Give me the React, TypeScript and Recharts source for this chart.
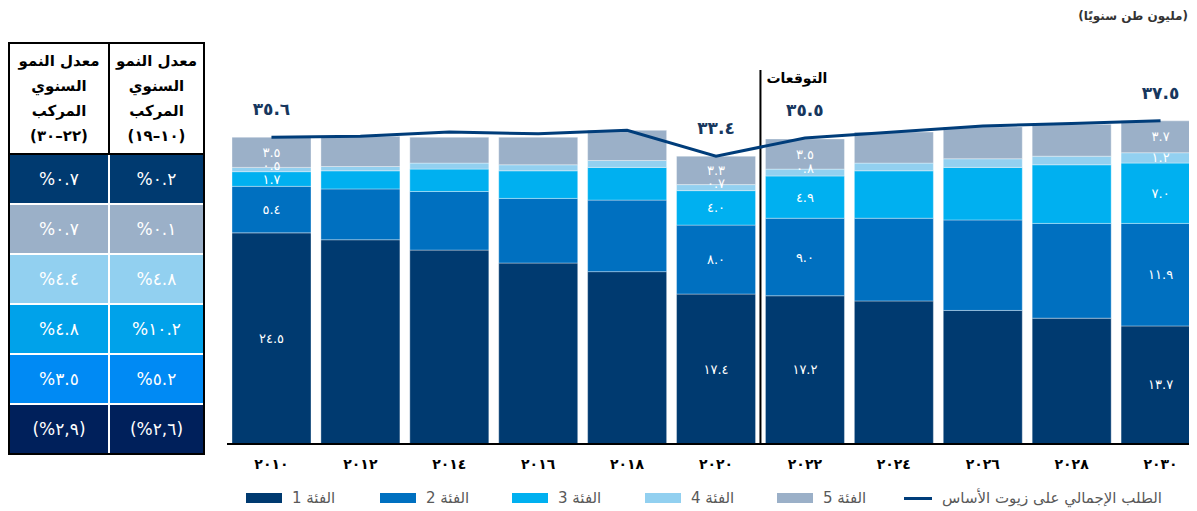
import React from 'react';
import { ComposedChart, Bar, Line, XAxis, YAxis, LabelList, ReferenceLine } from 'recharts';

// values (million tonnes / year)
const years = ['2010', '2012', '2014', '2016', '2018', '2020', '2022', '2024', '2026', '2028', '2030'];
const yearLabels = ['٢٠١٠', '٢٠١٢', '٢٠١٤', '٢٠١٦', '٢٠١٨', '٢٠٢٠', '٢٠٢٢', '٢٠٢٤', '٢٠٢٦', '٢٠٢٨', '٢٠٣٠'];
const cat1 = [24.5, 23.7, 22.5, 21.0, 20.0, 17.4, 17.2, 16.6, 15.5, 14.6, 13.7];
const cat2 = [5.4, 5.9, 6.8, 7.5, 8.3, 8.0, 9.0, 9.6, 10.5, 11.0, 11.9];
const cat3 = [1.7, 2.1, 2.6, 3.2, 3.8, 4.0, 4.9, 5.5, 6.1, 6.8, 7.0];
const cat4 = [0.5, 0.5, 0.7, 0.7, 0.8, 0.7, 0.8, 0.9, 1.0, 1.0, 1.2];
const cat5 = [3.5, 3.5, 3.0, 3.2, 3.5, 3.3, 3.5, 3.6, 3.7, 3.7, 3.7];
const totals = [35.6, 35.7, 36.2, 36.0, 36.4, 33.4, 35.5, 36.2, 36.9, 37.2, 37.5];
const labelledYears = ['2010', '2020', '2022', '2030'];

const seriesNames = ['الفئة 1', 'الفئة 2', 'الفئة 3', 'الفئة 4', 'الفئة 5'];
const lineName = 'الطلب الإجمالي على زيوت الأساس';
const colors = ['#003A70', '#0070C0', '#00B0F0', '#92D0F0', '#9BB0C8'];
const lineColor = '#003D7A';

// CAGR table
const cagrHeader2230 = ['معدل النمو', 'السنوي', 'المركب', '(٢٢–٣٠)'];
const cagrHeader1019 = ['معدل النمو', 'السنوي', 'المركب', '(١٠–١٩)'];
const cagr2230 = ['%٠.٧', '%٠.٧', '%٤.٤', '%٤.٨', '%٣.٥', '(%٢,٩)'];
const cagr1019 = ['%٠.٢', '%٠.١', '%٤.٨', '%١٠.٢', '%٥.٢', '(%٢,٦)'];
const rowColors = ['#003A70', '#9BB0C8', '#92D0F0', '#00A2EA', '#008AF4', '#00205B'];

const data = years.map((year, i) => ({
  year,
  c1: cat1[i],
  c2: cat2[i],
  c3: cat3[i],
  c4: cat4[i],
  c5: cat5[i],
  total: totals[i],
}));

const AR = '٠١٢٣٤٥٦٧٨٩';
const toAr = (n: number) => n.toFixed(1).replace(/\d/g, (d) => AR[+d]);
const arabicFont = '"DejaVu Sans", sans-serif';

// thin segments sit close together, spread their labels a little
const SegLabel = (props: any) => {
  const { x, y, width, height, index, value, nudge = 0 } = props;
  if (!labelledYears.includes(years[index])) return null;
  const dy = height < 10 ? nudge : 0;
  return (
    <text x={x + width / 2} y={y + height / 2 + dy} textAnchor="middle" dominantBaseline="central"
      fill="#fff" fontSize={13} fontFamily={arabicFont}>{toAr(value)}</text>
  );
};

const TotalLabel = (props: any) => {
  const { x, y, index, value } = props;
  if (!labelledYears.includes(years[index])) return null;
  return (
    <text x={x} y={y - 28} textAnchor="middle" dominantBaseline="central"
      fill="#17375E" fontSize={17} fontWeight="bold" letterSpacing={1} fontFamily={arabicFont}>{toAr(value)}</text>
  );
};

const YearTick = (props: any) => {
  const { x, y, index } = props;
  return (
    <text x={x} y={y + 20} textAnchor="middle" dominantBaseline="central" fill="#000"
      fontSize={14} fontWeight="bold" letterSpacing={3} fontFamily={arabicFont}>{yearLabels[index]}</text>
  );
};

const ForecastLabel = (props: any) => {
  const { viewBox } = props;
  return (
    <text x={viewBox.x + 6} y={viewBox.y + 8} textAnchor="start" dominantBaseline="central" fill="#000"
      fontSize={14} fontWeight="bold" fontFamily={arabicFont}>التوقعات</text>
  );
};

const CagrTable = () => {
  const cell = (bg: string, text: string, w: number) => (
    <div style={{ width: w, height: 48, background: bg, color: '#fff', display: 'flex', alignItems: 'center',
      justifyContent: 'center', fontSize: 17, fontFamily: arabicFont, direction: 'ltr' }}>{text}</div>
  );
  const header = (lines: string[], w: number) => (
    <div style={{ width: w, height: 109, display: 'flex', flexDirection: 'column', alignItems: 'center',
      justifyContent: 'center', fontFamily: arabicFont, fontWeight: 'bold', fontSize: 15, lineHeight: '25px',
      color: '#000', direction: 'rtl' }}>
      {lines.map((l, i) => <div key={i}>{l}</div>)}
    </div>
  );
  return (
    <div style={{ position: 'absolute', left: 0, top: 34, width: 197, height: 413, border: '2px solid #000',
      boxSizing: 'border-box', background: '#fff' }}>
      <div style={{ display: 'flex' }}>
        {header(cagrHeader2230, 98)}
        <div style={{ width: 2, height: 109, background: '#000' }} />
        {header(cagrHeader1019, 93)}
      </div>
      <div style={{ height: 2, background: '#000' }} />
      {rowColors.map((bg, i) => (
        <div key={i} style={{ display: 'flex', marginTop: i === 0 ? 0 : 2 }}>
          {cell(bg, cagr2230[i], 98)}
          <div style={{ width: 2, height: 48, background: '#fff' }} />
          {cell(bg, cagr1019[i], 93)}
        </div>
      ))}
    </div>
  );
};

const legendLefts = [238, 372, 504, 637, 769];
const labelNudges = [0, 0, 3, -4, 0];

const App: React.FC = () => (
  <div style={{ position: 'relative', width: 1189, height: 503, overflow: 'hidden', background: '#fff' }}>
    <div style={{ position: 'absolute', right: 9, top: 1, fontFamily: arabicFont, fontWeight: 'bold', fontSize: 12,
      color: '#333', direction: 'rtl' }}>(مليون طن سنويًا)</div>

    <CagrTable />

    <div style={{ position: 'absolute', left: 219, top: 0 }}>
      <ComposedChart width={978} height={503} data={data} barCategoryGap={5}
        margin={{ top: 62, right: 0, bottom: 0, left: 0 }}>
        <XAxis dataKey="year" height={67} tickLine={false} tickSize={0} tickMargin={0}
          axisLine={{ stroke: '#000', strokeWidth: 2 }} tick={<YearTick />} interval={0} />
        <YAxis hide domain={[0, 43.4]} />
        {(['c1', 'c2', 'c3', 'c4', 'c5'] as const).map((k, i) => (
          <Bar key={k} dataKey={k} stackId="s" fill={colors[i]} stroke="rgba(255,255,255,0.35)" strokeWidth={1}
            isAnimationActive={false} name={seriesNames[i]}>
            <LabelList dataKey={k} content={<SegLabel nudge={labelNudges[i]} />} />
          </Bar>
        ))}
        <ReferenceLine x="2020" position="end" stroke="#000" strokeWidth={2} ifOverflow="visible"
          label={<ForecastLabel />} />
        <Line dataKey="total" type="linear" stroke={lineColor} strokeWidth={3} dot={false}
          isAnimationActive={false} name={lineName}>
          <LabelList dataKey="total" content={<TotalLabel />} />
        </Line>
      </ComposedChart>
    </div>

    {seriesNames.map((n, i) => (
      <div key={n} style={{ position: 'absolute', left: legendLefts[i], top: 481, display: 'flex', alignItems: 'center' }}>
        <div style={{ width: 36, height: 10, background: colors[i] }} />
        <span style={{ marginLeft: 10, fontFamily: arabicFont, fontSize: 15, color: '#595959', direction: 'rtl' }}>{n}</span>
      </div>
    ))}
    <div style={{ position: 'absolute', left: 896, top: 481, display: 'flex', alignItems: 'center' }}>
      <div style={{ width: 28, height: 3, background: lineColor }} />
      <span style={{ marginLeft: 10, fontFamily: arabicFont, fontSize: 15, color: '#595959', direction: 'rtl' }}>{lineName}</span>
    </div>
  </div>
);

export default App;
